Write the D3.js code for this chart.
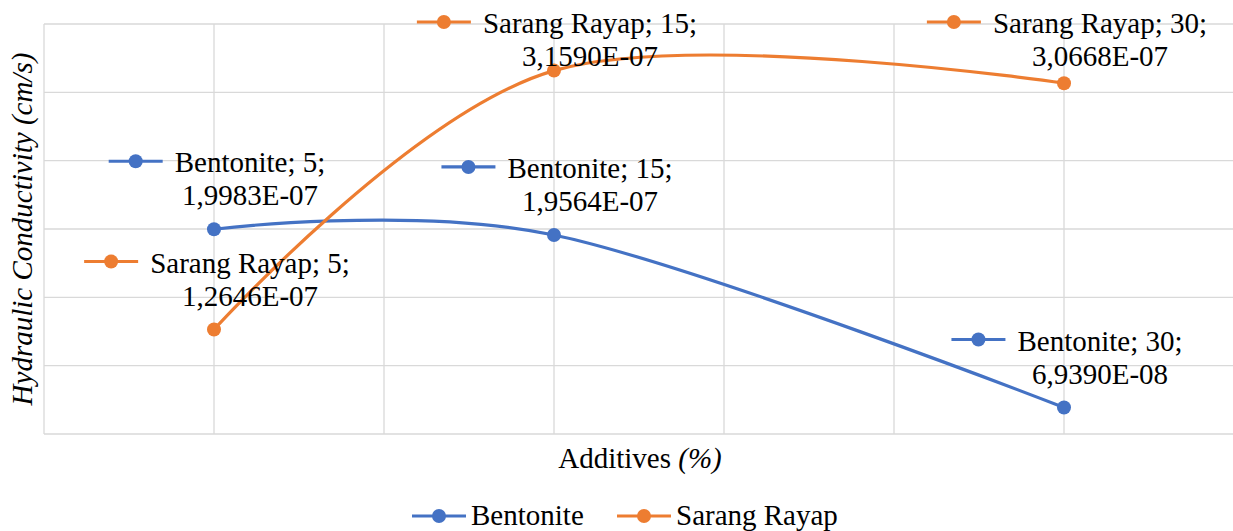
<!DOCTYPE html>
<html>
<head>
<meta charset="utf-8">
<script src="https://cdn.jsdelivr.net/npm/d3@7"></script>
<style>
  html, body { margin: 0; padding: 0; background: #fff; }
  svg { display: block; }
</style>
</head>
<body>
<svg id="chart" width="1233" height="531"></svg>
<script>
// ---- data ----
const additives = [5, 15, 30];
const bentonite = [1.9983e-7, 1.9564e-7, 6.9390e-8];
const sarangRayap = [1.2646e-7, 3.1590e-7, 3.0668e-7];
const bentoniteLabels = ["1,9983E-07", "1,9564E-07", "6,9390E-08"];
const sarangRayapLabels = ["1,2646E-07", "3,1590E-07", "3,0668E-07"];
const seriesNames = ["Bentonite", "Sarang Rayap"];
const xTicks = [0, 5, 10, 15, 20, 25, 30, 35];
const yTicks = [0.5e-7, 1.0e-7, 1.5e-7, 2.0e-7, 2.5e-7, 3.0e-7, 3.5e-7];

const colors = ["#4472C4", "#ED7D31"];
const series = [
  { name: seriesNames[0], values: bentonite, labels: bentoniteLabels, color: colors[0] },
  { name: seriesNames[1], values: sarangRayap, labels: sarangRayapLabels, color: colors[1] }
];

const FONT = '"Liberation Serif"';
const svg = d3.select("#chart");
const plot = { left: 44, right: 1234, top: 24, bottom: 434 };
const fontSize = 29;

function addText(parent) {
  return parent.append("text")
    .style("font-family", FONT)
    .attr("font-size", fontSize)
    .attr("fill", "#000");
}

const x = d3.scaleLinear().domain([0, 35]).range([plot.left, plot.right]);
const y = d3.scaleLinear().domain([0.5e-7, 3.5e-7]).range([plot.bottom, plot.top]);

// grid
const grid = svg.append("g");
grid.selectAll("line.h").data(yTicks).join("line")
  .attr("x1", plot.left).attr("x2", plot.right)
  .attr("y1", d => y(d)).attr("y2", d => y(d))
  .attr("stroke", "#d9d9d9").attr("stroke-width", 1.3);
grid.selectAll("line.v").data(xTicks).join("line")
  .attr("y1", plot.top).attr("y2", plot.bottom)
  .attr("x1", d => x(d)).attr("x2", d => x(d))
  .attr("stroke", "#d9d9d9").attr("stroke-width", 1.3);

// lines
const line = d3.line()
  .x(d => x(d[0])).y(d => y(d[1]))
  .curve(d3.curveCardinal.tension(0));

series.forEach(s => {
  const pts = additives.map((a, i) => [a, s.values[i]]);
  svg.append("path").datum(pts)
    .attr("d", line).attr("fill", "none")
    .attr("stroke", s.color).attr("stroke-width", 3.2);
  svg.append("g").selectAll("circle").data(pts).join("circle")
    .attr("cx", d => x(d[0])).attr("cy", d => y(d[1]))
    .attr("r", 7).attr("fill", s.color);
});

// key helper
function drawKey(g, x0, yc, color) {
  g.append("line").attr("x1", x0).attr("x2", x0 + 54)
    .attr("y1", yc).attr("y2", yc)
    .attr("stroke", color).attr("stroke-width", 3.2);
  g.append("circle").attr("cx", x0 + 27).attr("cy", yc).attr("r", 7).attr("fill", color);
}

// data labels
const keyW = 54, gap = 12, lineH = 33;
series.forEach(s => {
  additives.forEach((a, i) => {
    const px = x(a), py = y(s.values[i]);
    const g = svg.append("g");
    const t1 = addText(g).text(`${s.name}; ${a};`);
    const t2 = addText(g).text(s.labels[i]);
    const w1 = t1.node().getComputedTextLength();
    const w2 = t2.node().getComputedTextLength();
    const tw = Math.max(w1, w2);
    const total = keyW + gap + tw;
    const left = px - total / 2 + 3;
    let b1 = py - 24 - lineH;
    if (b1 < 33) b1 = 33;
    const b2 = b1 + lineH;
    const tc = left + keyW + gap + tw / 2;
    t1.attr("x", tc).attr("y", b1).attr("text-anchor", "middle");
    t2.attr("x", tc).attr("y", b2).attr("text-anchor", "middle");
    drawKey(g, left, b1 - 11, s.color);
  });
});

// axis titles
const xt = addText(svg)
  .attr("x", (plot.left + plot.right) / 2 + 1).attr("y", 468).attr("text-anchor", "middle");
xt.append("tspan").text("Additives ");
xt.append("tspan").attr("font-style", "italic").text("(%)");

addText(svg).attr("font-style", "italic")
  .attr("text-anchor", "middle")
  .attr("transform", `translate(32, ${(plot.top + plot.bottom) / 2}) rotate(-90)`)
  .text("Hydraulic Conductivity (cm/s)");

// legend
const legend = svg.append("g");
const legendX = [412, 617];
series.forEach((s, i) => {
  drawKey(legend, legendX[i], 516, s.color);
  addText(legend).attr("x", legendX[i] + 59).attr("y", 525).text(s.name);
});
</script>
</body>
</html>
